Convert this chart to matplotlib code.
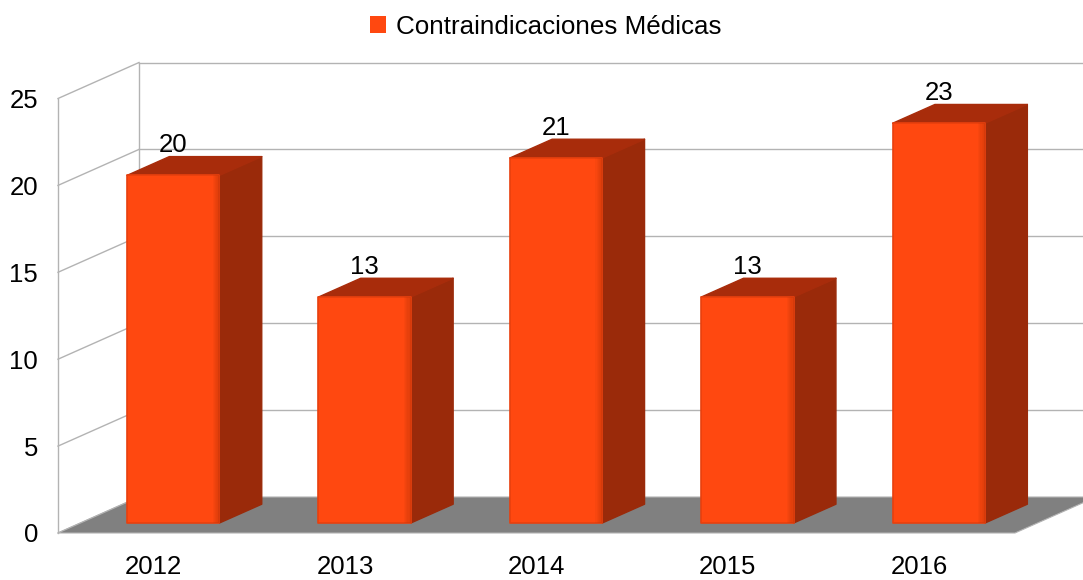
import matplotlib
matplotlib.use("Agg")
import matplotlib.pyplot as plt
from matplotlib.patches import Polygon, Patch

plt.rcParams["font.family"] = ["Liberation Sans", "DejaVu Sans"]

# datos
years = ["2012", "2013", "2014", "2015", "2016"]
values = [20, 13, 21, 13, 23]
yticks = [0, 5, 10, 15, 20, 25]
series_name = "Contraindicaciones Médicas"

FRONT = "#ff4810"
SIDE = "#9a2a0a"
TOP = "#a82c0b"
FLOOR = "#808080"
GRID = "#b3b3b3"

# geometría de la vista oblicua (unidades: categoría / valor)
W, H = 1083, 580
CAT_PX, UNIT_PX = 191.4, 17.38
X0_PX, Y0_PX = 58, 533
DX = 81 / CAT_PX          # desplazamiento de profundidad completa en x
DY = 36 / UNIT_PX         # ... y en y
D0, D1 = 0.278, 0.80      # profundidad de las barras
BAR_OFF, BAR_W = 0.243, 0.483
FS = 18.5


def proj(x, y, d):
    return (x + d * DX, y + d * DY)


fig = plt.figure(figsize=(W / 100, H / 100), dpi=100)
ax = fig.add_axes([0, 0, 1, 1])
ax.axis("off")
ax.set_xlim(-X0_PX / CAT_PX, (W - X0_PX) / CAT_PX)
ax.set_ylim(-(H - Y0_PX) / UNIT_PX, Y0_PX / UNIT_PX)

n = len(years)
ymax = yticks[-1]

# suelo
ax.add_patch(Polygon([proj(0, 0, 0), proj(n, 0, 0), proj(n, 0, 1), proj(0, 0, 1)],
                     closed=True, fc=FLOOR, ec=GRID, lw=0.8, zorder=1))

# paredes: rejilla
for t in yticks:
    a, b = proj(0, t, 0), proj(0, t, 1)
    ax.plot([a[0], b[0]], [a[1], b[1]], color=GRID, lw=1, zorder=0.5)
    if t > 0:
        c = proj(n, t, 1)
        ax.plot([b[0], c[0]], [b[1], c[1]], color=GRID, lw=1, zorder=0.5)
for d in (0, 1):
    a, b = proj(0, 0, d), proj(0, ymax, d)
    ax.plot([a[0], b[0]], [a[1], b[1]], color=GRID, lw=1, zorder=0.5)

# barras
for i, v in enumerate(values):
    x0 = i + BAR_OFF
    x1 = x0 + BAR_W
    side = [proj(x1, 0, D0), proj(x1, v, D0), proj(x1, v, D1), proj(x1, 0, D1)]
    top = [proj(x0, v, D0), proj(x1, v, D0), proj(x1, v, D1), proj(x0, v, D1)]
    front = [proj(x0, 0, D0), proj(x1, 0, D0), proj(x1, v, D0), proj(x0, v, D0)]
    ax.add_patch(Polygon(side, closed=True, fc=SIDE, ec=SIDE, lw=1, joinstyle="round", zorder=2))
    ax.add_patch(Polygon(top, closed=True, fc=TOP, ec=TOP, lw=1, joinstyle="round", zorder=2))
    ax.add_patch(Polygon(front, closed=True, fc=FRONT, ec="#e8400e", lw=1.2,
                         joinstyle="round", zorder=3))
    # sombreado suave hacia el borde derecho de la cara frontal
    for k in range(6):
        w = 0.006 * (6 - k)
        sh = [proj(x1 - w, 0, D0), proj(x1, 0, D0), proj(x1, v, D0), proj(x1 - w, v, D0)]
        ax.add_patch(Polygon(sh, closed=True, fc="#c8380a", ec="none", alpha=0.12, zorder=3.5))
    ly = proj(x0, v, D1)[1]
    ax.text(proj(x0 + BAR_W / 2, v, D0)[0], ly + 0.65, str(v), ha="center", va="center",
            fontsize=FS, zorder=5)

# etiquetas de ejes
for t in yticks:
    ax.text(-20 / CAT_PX, t - 2.5 / UNIT_PX, str(t), ha="right", va="center", fontsize=FS)
for i, y in enumerate(years):
    ax.text(i + 0.5, -45.5 / UNIT_PX, y, ha="center", va="bottom", fontsize=FS)

fig.legend(handles=[Patch(fc=FRONT, ec="none", label=series_name)],
           loc="center", bbox_to_anchor=(546 / W, 1 - 27 / H), frameon=False,
           fontsize=18.7, handlelength=0.62, handleheight=0.62, handletextpad=0.4,
           borderaxespad=0, borderpad=0)

fig.savefig("out.png", dpi=100)
